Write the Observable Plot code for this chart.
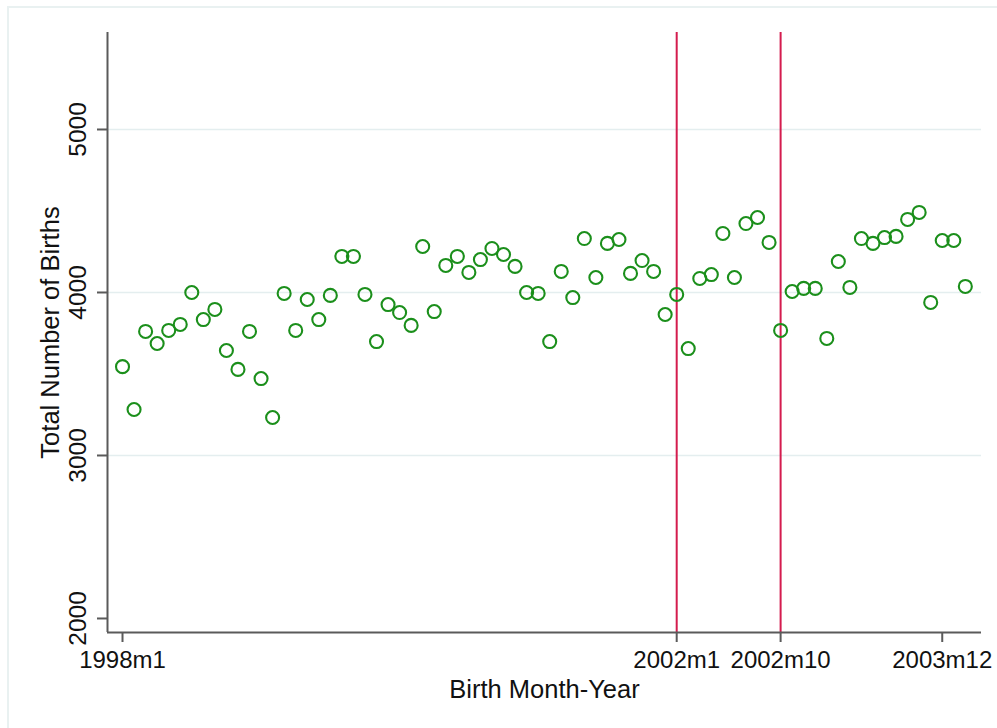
<!DOCTYPE html>
<html>
<head>
<meta charset="utf-8">
<script src="https://cdn.jsdelivr.net/npm/d3@7"></script>
<script src="https://cdn.jsdelivr.net/npm/@observablehq/plot@0.6"></script>
<style>
  html, body { margin: 0; padding: 0; background: #fff; }
  #wrap { position: relative; width: 997px; height: 728px; overflow: hidden; }
  #border { position: absolute; left: 7px; top: 6px; width: 1100px; height: 800px;
            border: 2px solid #e9f1f1; box-sizing: border-box; pointer-events: none; }
  #chart { position: absolute; left: 0; top: 0; }
</style>
</head>
<body>
<div id="wrap"><div id="border"></div><div id="chart"></div></div>
<script>
// Monthly births, 1998m1 (index 0) through 2004m2 (index 73)
const births = [
  3545, 3282, 3761, 3687, 3767, 3804, 4000, 3834, 3896, 3644, 3528, 3761,
  3472, 3233, 3994, 3767, 3957, 3834, 3982, 4221, 4221, 3988, 3699, 3926,
  3877, 3798, 4282, 3883, 4166, 4221, 4123, 4202, 4270, 4233, 4160, 4000,
  3994, 3699, 4129, 3969, 4331, 4092, 4301, 4325, 4117, 4196, 4129, 3865,
  3988, 3656, 4086, 4110, 4362, 4092, 4423, 4460, 4307, 3767, 4006, 4025,
  4025, 3718, 4190, 4031, 4331, 4301, 4337, 4344, 4448, 4491, 3939, 4319,
  4319, 4037
];
const xTickMonths = [0, 48, 57, 71];
const xTickLabels = ["1998m1", "2002m1", "2002m10", "2003m12"];
const yTicks = [2000, 3000, 4000, 5000];
const yGrid = [3000, 4000, 5000];
const eventMonths = [48, 57];
const xTitle = "Birth Month-Year";
const yTitle = "Total Number of Births";

const data = births.map((v, i) => ({month: i, births: v}));
const labelOf = new Map(xTickMonths.map((m, i) => [m, xTickLabels[i]]));

const xDomain = [-1.3, 74.4];
const yDomain = [1914, 5595];
const green = "#1b8f1b";
const red = "#d41c4e";
const axisColor = "#5a5a5a";
const font = "'Liberation Sans', Arial, sans-serif";

const chart = Plot.plot({
  width: 997,
  height: 728,
  marginLeft: 107,
  marginRight: 16,
  marginTop: 32,
  marginBottom: 96,
  style: {fontFamily: font, background: "transparent", color: "#111"},
  x: {domain: xDomain},
  y: {domain: yDomain},
  marks: [
    Plot.gridY(yGrid, {stroke: "#e4eeef", strokeOpacity: 1, strokeWidth: 1.5}),
    Plot.ruleX(eventMonths, {stroke: red, strokeWidth: 2}),
    Plot.dot(data, {x: "month", y: "births", r: 6.5, stroke: green, strokeWidth: 2.1, fill: "none"}),
    Plot.ruleX([xDomain[0]], {stroke: axisColor, strokeWidth: 2}),
    Plot.ruleY([yDomain[0]], {stroke: axisColor, strokeWidth: 2}),
    Plot.axisY({ticks: yTicks, tickSize: 10, tickFormat: () => "", label: null, stroke: axisColor, strokeWidth: 2}),
    Plot.text(yTicks, {y: d => d, frameAnchor: "left", dx: -29, rotate: -90,
      textAnchor: "middle", lineAnchor: "middle", fontSize: 24.5, fill: "#111", text: d => String(d)}),
    Plot.axisX({ticks: xTickMonths, tickSize: 10, tickPadding: 8, tickFormat: d => labelOf.get(d),
      label: null, fontSize: 24, stroke: axisColor, strokeWidth: 2, fill: "#111"}),
    Plot.text([xTitle], {frameAnchor: "bottom", dy: 57, lineAnchor: "middle",
      fontSize: 25.5, fill: "#111", text: d => d}),
    Plot.text([yTitle], {frameAnchor: "left", dx: -57, rotate: -90, lineAnchor: "middle",
      textAnchor: "middle", fontSize: 25.5, fill: "#111", text: d => d})
  ]
});
document.getElementById("chart").appendChild(chart);
</script>
</body>
</html>
